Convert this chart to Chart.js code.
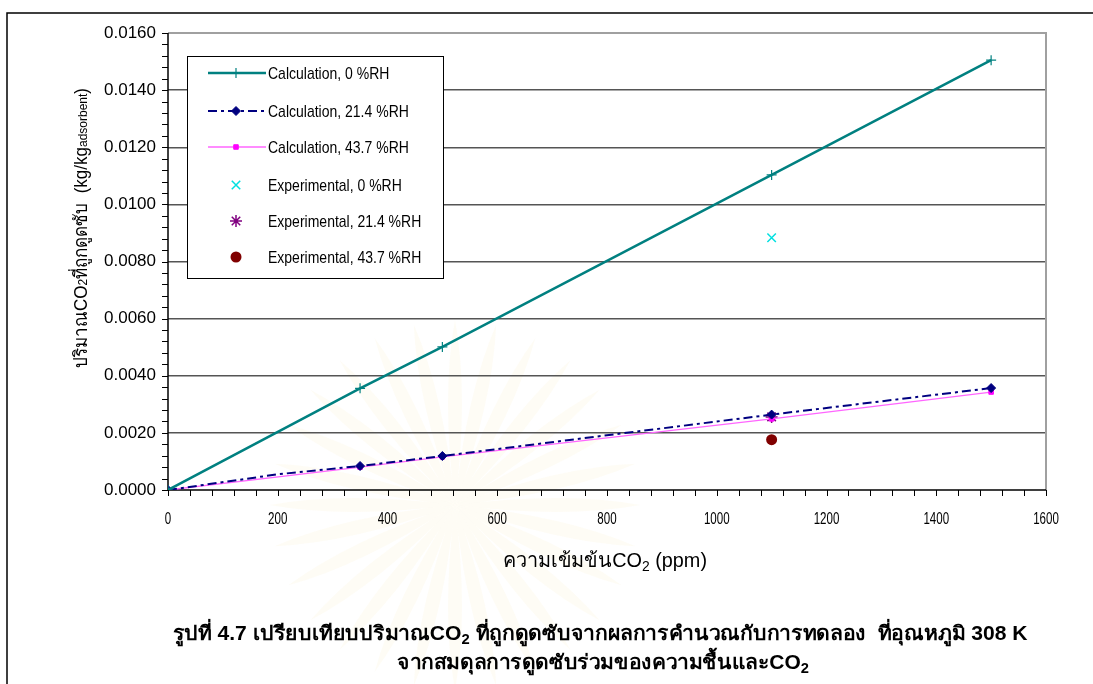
<!DOCTYPE html>
<html>
<head>
<meta charset="utf-8">
<script src="https://cdn.jsdelivr.net/npm/chart.js@4.4.1/dist/chart.umd.min.js"></script>
<style>
  html, body { margin: 0; padding: 0; background: #ffffff; }
  #wrap { width: 1093px; height: 684px; position: relative; }
</style>
</head>
<body>
<div id="wrap"><canvas id="c" width="1093" height="684"></canvas></div>
<script>
// CO2 concentration (ppm) for the calculated curves
const co2Ppm = [0, 350, 500, 1100, 1500];
const co2Ppm214 = [0, 200, 350, 500, 1100, 1500];
// Calculated adsorbed CO2 (kg/kg adsorbent)
const calc0 = [0, 0.00356, 0.00501, 0.01103, 0.01505];
const calc214 = [0, 0.00055, 0.00084, 0.00119, 0.00264, 0.00357];
const calc437 = [0, 0.00080, 0.00116, 0.00249, 0.00343];
// Experimental points
const expPpm = [1100];
const exp0 = [0.00883];
const exp214 = [0.00256];
const exp437 = [0.00176];
// Axis ticks
const xMax = 1600, xStep = 200, xMinorStep = 40;
const yMax = 0.016, yStep = 0.002, yMinorStep = 0.0004;

const seriesNames = [
  'Calculation, 0 %RH', 'Calculation, 21.4 %RH', 'Calculation, 43.7 %RH',
  'Experimental, 0 %RH', 'Experimental, 21.4 %RH', 'Experimental, 43.7 %RH'
];

const pts = (xs, ys) => xs.map((x, i) => ({ x: x, y: ys[i] }));

const SANS = '"Liberation Sans", Arial, sans-serif';

// draw a row of text pieces with different sizes / baseline shifts,
// optionally squeezed horizontally to a given width
function drawRuns(ctx, runs, x, y, align, fitWidth, sy) {
  let total = 0;
  runs.forEach(r => { ctx.font = r.font; r.w = ctx.measureText(r.t).width; total += r.w; });
  const sx = fitWidth ? fitWidth / total : 1;
  ctx.save();
  ctx.translate(x, y);
  ctx.scale(sx, sy || 1);
  let cx = align === 'center' ? -total / 2 : 0;
  ctx.textAlign = 'left';
  ctx.textBaseline = 'alphabetic';
  runs.forEach(r => { ctx.font = r.font; ctx.fillText(r.t, cx, r.dy || 0); cx += r.w; });
  ctx.restore();
}

const decorations = {
  id: 'decorations',
  beforeDraw(chart) {
    const ctx = chart.ctx;
    ctx.save();
    ctx.fillStyle = '#ffffff';
    ctx.fillRect(0, 0, chart.width, chart.height);
    // faint emblem behind the plot
    ctx.translate(455, 505);
    ctx.fillStyle = 'rgba(245, 225, 160, 0.10)';
    for (let i = 0; i < 28; i++) {
      ctx.rotate(Math.PI * 2 / 28);
      ctx.beginPath();
      ctx.moveTo(0, 0);
      ctx.quadraticCurveTo(14, -110, 0, -185);
      ctx.quadraticCurveTo(-14, -110, 0, 0);
      ctx.fill();
    }
    ctx.restore();
  },
  beforeDatasetsDraw(chart) {
    const ctx = chart.ctx;
    const a = chart.chartArea;
    const xs = chart.scales.x, ys = chart.scales.y;
    ctx.save();
    // plot frame: grey top/right edges
    ctx.strokeStyle = '#a0a0a0';
    ctx.lineWidth = 2;
    ctx.beginPath();
    ctx.moveTo(a.left, a.top); ctx.lineTo(a.right, a.top); ctx.lineTo(a.right, a.bottom);
    ctx.stroke();
    // axes lines
    ctx.strokeStyle = '#000000';
    ctx.lineWidth = 1.5;
    ctx.beginPath();
    ctx.moveTo(a.left, a.top); ctx.lineTo(a.left, a.bottom); ctx.lineTo(a.right, a.bottom);
    ctx.stroke();
    // minor/major tick marks
    ctx.lineWidth = 1;
    ctx.beginPath();
    for (let v = 0; v <= xMax + 1e-9; v += xMinorStep) {
      const px = Math.round(xs.getPixelForValue(v)) + 0.5;
      ctx.moveTo(px, a.bottom); ctx.lineTo(px, a.bottom + 6);
    }
    for (let k = 0; k * yMinorStep <= yMax + 1e-12; k++) {
      const py = Math.round(ys.getPixelForValue(k * yMinorStep)) + 0.5;
      ctx.moveTo(a.left - 6, py); ctx.lineTo(a.left, py);
    }
    ctx.stroke();
    ctx.restore();
  },
  afterDraw(chart) {
    const ctx = chart.ctx;
    const xs = chart.scales.x;
    ctx.save();
    ctx.fillStyle = '#000000';
    // outer frame
    ctx.strokeStyle = '#000000';
    ctx.lineWidth = 1.5;
    ctx.beginPath();
    ctx.moveTo(7, 684); ctx.lineTo(7, 13); ctx.lineTo(1093, 13);
    ctx.stroke();

    // x tick labels, narrow face
    xs.ticks.forEach(t => {
      const px = xs.getPixelForValue(t.value);
      const label = String(t.value);
      ctx.font = '17px ' + SANS;
      const w = ctx.measureText(label).width * 0.68;
      drawRuns(ctx, [{ t: label, font: '17px ' + SANS }], px, 524, 'center', w);
    });

    // y axis title
    ctx.save();
    ctx.translate(87, 228);
    ctx.rotate(-Math.PI / 2);
    drawRuns(ctx, [
      { t: 'ปริมาณCO', font: '17px ' + SANS },
      { t: '2', font: '12px ' + SANS },
      { t: 'ที่ถูกดูดซับ  (kg/kg', font: '17px ' + SANS },
      { t: 'adsorbent', font: '12px ' + SANS },
      { t: ')', font: '17px ' + SANS }
    ], 0, 0, 'center', 280, 1.1);
    ctx.restore();

    // x axis title
    drawRuns(ctx, [
      { t: 'ความเข้มข้นCO', font: '20px ' + SANS },
      { t: '2', font: '14px ' + SANS, dy: 4 },
      { t: ' (ppm)', font: '20px ' + SANS }
    ], 605, 567, 'center', 204);

    // caption
    drawRuns(ctx, [
      { t: 'รูปที่ 4.7 เปรียบเทียบปริมาณCO', font: 'bold 20px ' + SANS },
      { t: '2', font: 'bold 14px ' + SANS, dy: 4 },
      { t: ' ที่ถูกดูดซับจากผลการคำนวณกับการทดลอง  ที่อุณหภูมิ 308 K', font: 'bold 20px ' + SANS }
    ], 600, 640, 'center', 855);
    drawRuns(ctx, [
      { t: 'จากสมดุลการดูดซับร่วมของความชื้นและCO', font: 'bold 20px ' + SANS },
      { t: '2', font: 'bold 14px ' + SANS, dy: 4 }
    ], 603, 669, 'center', 412);

    // legend box
    const lx = 187, ly = 56, lw = 256, lh = 222;
    ctx.fillStyle = '#ffffff';
    ctx.fillRect(lx, ly, lw, lh);
    ctx.strokeStyle = '#000000';
    ctx.lineWidth = 1;
    ctx.strokeRect(lx + 0.5, ly + 0.5, lw, lh);
    const rows = [73, 111, 147, 185, 221, 257];
    chart.data.datasets.forEach((ds, i) => {
      const y = rows[i];
      if (ds.showLine !== false) {
        ctx.save();
        ctx.strokeStyle = ds.borderColor;
        ctx.lineWidth = ds.borderWidth;
        ctx.setLineDash(ds.borderDash || []);
        ctx.beginPath();
        ctx.moveTo(208, y); ctx.lineTo(266, y);
        ctx.stroke();
        ctx.restore();
      }
      ctx.save();
      ctx.fillStyle = ds.backgroundColor;
      ctx.strokeStyle = ds.pointBorderColor;
      ctx.lineWidth = ds.pointBorderWidth;
      Chart.helpers.drawPoint(ctx, {
        pointStyle: ds.pointStyle, radius: ds.legendRadius, rotation: 0,
        borderWidth: ds.pointBorderWidth
      }, 236, y);
      ctx.restore();
      ctx.fillStyle = '#000000';
      drawRuns(ctx, [{ t: ds.label, font: '14px ' + SANS }], 268, y + 5.5, 'left', null, 1.15);
    });
    ctx.restore();
  }
};

function makeDataset(label, data, opt) {
  return Object.assign({
    label: label,
    data: data,
    fill: false,
    tension: 0,
    pointHoverRadius: 0,
  }, opt);
}

const datasets = [
  makeDataset(seriesNames[0], pts(co2Ppm, calc0), {
    borderColor: '#008080', backgroundColor: '#008080', borderWidth: 2.5,
    pointStyle: 'cross', pointRadius: 5, pointBorderWidth: 1.2, pointBorderColor: '#008080',
    legendRadius: 5
  }),
  makeDataset(seriesNames[1], pts(co2Ppm214, calc214), {
    borderColor: '#000080', backgroundColor: '#000080', borderWidth: 2,
    borderDash: [9, 4, 3, 4],
    pointStyle: 'rectRot', pointBorderWidth: 1, pointBorderColor: '#000080',
    pointRadius: ctx => (co2Ppm.includes(ctx.raw && ctx.raw.x) ? 4.5 : 0),
    legendRadius: 4.5
  }),
  makeDataset(seriesNames[2], pts(co2Ppm, calc437), {
    borderColor: '#ff66ff', backgroundColor: '#ff00ff', borderWidth: 1.3,
    pointStyle: 'rect', pointRadius: 3.2, pointBorderWidth: 1, pointBorderColor: '#ff00ff',
    legendRadius: 3.2
  }),
  makeDataset(seriesNames[3], pts(expPpm, exp0), {
    showLine: false, borderColor: '#00ffff', backgroundColor: '#00ffff', borderWidth: 1.5,
    pointStyle: 'crossRot', pointRadius: 6, pointBorderWidth: 1.5, pointBorderColor: '#00e0e0',
    legendRadius: 6
  }),
  makeDataset(seriesNames[4], pts(expPpm, exp214), {
    showLine: false, borderColor: '#800080', backgroundColor: '#800080', borderWidth: 1.5,
    pointStyle: 'star', pointRadius: 6, pointBorderWidth: 1.5, pointBorderColor: '#800080',
    legendRadius: 6
  }),
  makeDataset(seriesNames[5], pts(expPpm, exp437), {
    showLine: false, borderColor: '#800000', backgroundColor: '#800000', borderWidth: 1,
    pointStyle: 'circle', pointRadius: 5.5, pointBorderWidth: 0, pointBorderColor: '#800000',
    legendRadius: 5.5
  })
];

new Chart(document.getElementById('c'), {
  type: 'line',
  data: { datasets: datasets },
  options: {
    responsive: false,
    animation: false,
    events: [],
    layout: { padding: { left: 0, top: 33, right: 47, bottom: 0 } },
    plugins: { legend: { display: false }, tooltip: { enabled: false }, title: { display: false } },
    scales: {
      x: {
        type: 'linear', min: 0, max: xMax,
        border: { display: false },
        grid: { display: false },
        ticks: {
          stepSize: xStep, padding: 12, color: 'rgba(0,0,0,0)',
          font: { family: SANS, size: 15 },
          maxRotation: 0,
          callback: v => String(v)
        },
        afterFit: s => { s.height = 684 - 490; }
      },
      y: {
        type: 'linear', min: 0, max: yMax,
        border: { display: false },
        grid: {
          drawTicks: false,
          color: ctx => (ctx.tick && ctx.tick.value > 0 && ctx.tick.value < yMax - 1e-9) ? '#555555' : 'rgba(0,0,0,0)',
          lineWidth: 1.5
        },
        ticks: {
          stepSize: yStep, padding: 12, color: '#000000',
          font: { family: SANS, size: 17 },
          callback: v => v.toFixed(4)
        },
        afterFit: s => { s.width = 168; }
      }
    }
  },
  plugins: [decorations]
});
</script>
</body>
</html>
